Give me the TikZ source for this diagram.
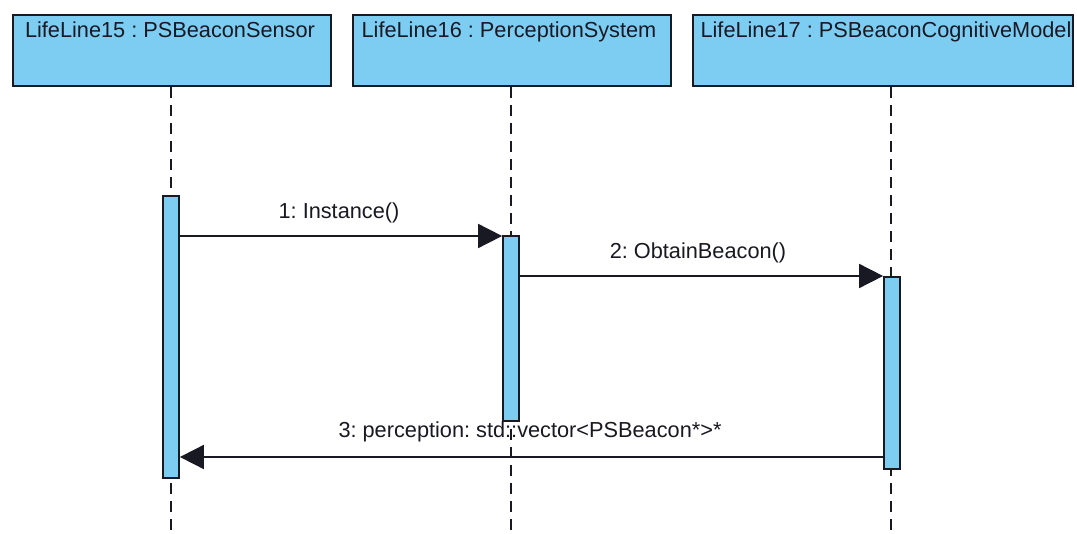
\documentclass[tikz,border=0pt]{standalone}
\usepackage{fontspec}
\setmainfont{Liberation Sans}
\usetikzlibrary{arrows.meta}
\definecolor{llblue}{RGB}{125,205,242}
\definecolor{ink}{RGB}{25,25,35}
\frenchspacing
\begin{document}
\begin{tikzpicture}[x=0.75pt,y=-0.75pt,
  lifebox/.style={draw=ink,line width=1.4pt,fill=llblue,rectangle,inner sep=0pt},
  actbar/.style={draw=ink,line width=1.3pt,fill=llblue,rectangle,inner sep=0pt,minimum width=12pt},
  lifeline/.style={draw=ink,line width=1.3pt,dash pattern=on 8.5pt off 5pt},
  msg/.style={draw=ink,line width=1.3pt,-{Triangle[length=18pt,width=18pt]}},
  lbl/.style={font=\fontsize{16.3}{19}\selectfont,text=ink,inner sep=0pt,anchor=base}
]
\useasboundingbox (0,0) rectangle (1077,534);
\fill[white] (0,0) rectangle (1077,534);

% lifeline heads
\node[lifebox,minimum width=238.5pt,minimum height=53.25pt,anchor=north west] (h1) at (12,14) {};
\node[lifebox,minimum width=238.5pt,minimum height=53.25pt,anchor=north west] (h2) at (352,14) {};
\node[lifebox,minimum width=285pt,minimum height=53.25pt,anchor=north west] (h3) at (692,14) {};
\node[lbl] (t1) at (170,38) {LifeLine15 : PSBeaconSensor};
\node[lbl] (t2) at (509,38) {LifeLine16 : PerceptionSystem};
\node[lbl] (t3) at (886,38) {LifeLine17 : PSBeaconCognitiveModel};

% lifeline ends
\coordinate (e1) at (171,534);
\coordinate (e2) at (511,534);
\coordinate (e3) at (891,534);
\draw[lifeline] (h1.south -| e1) -- (e1);
\draw[lifeline] (h2.south -| e2) -- (e2);
\draw[lifeline] (h3.south -| e3) -- (e3);

% activation bars
\node[actbar,minimum height=211.5pt,anchor=north] (b1) at (171,195) {};
\node[actbar,minimum height=138.75pt,anchor=north] (b2) at (511,235) {};
\node[actbar,minimum height=144pt,anchor=north] (b3) at (892,276) {};

% messages
\coordinate (m1) at (0,236);
\coordinate (m2) at (0,276);
\coordinate (m3) at (0,457);
\draw[msg] (b1.east |- m1) -- (b2.west |- m1);
\draw[msg] (b2.east |- m2) -- (b3.west |- m2);
\draw[msg] (b3.west |- m3) -- (b1.east |- m3);
\node[lbl] (l1) at (339,219) {1: Instance()};
\node[lbl] (l2) at (698,259) {2: ObtainBeacon()};
\node[lbl] (l3) at (530,437) {3: perception: std::vector<PSBeacon*>*};
\end{tikzpicture}
\end{document}
